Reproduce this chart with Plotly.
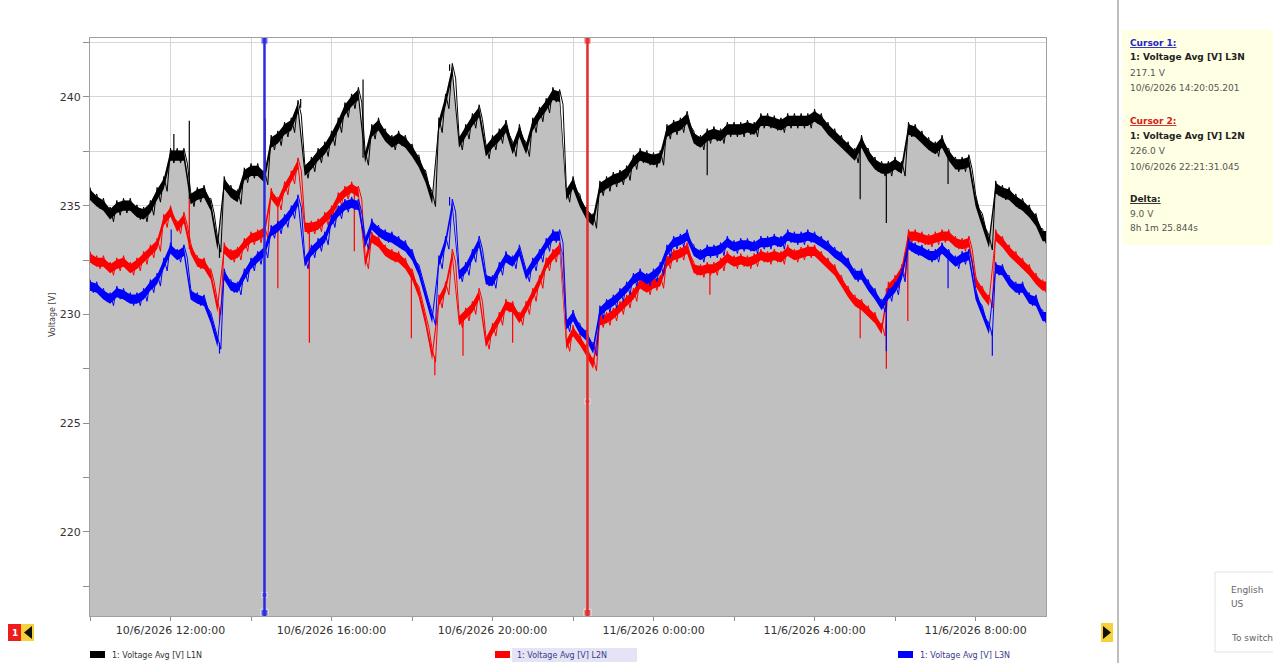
import plotly.graph_objects as go
from datetime import datetime, timedelta

# ---------------------------------------------------------------- data
START = datetime(2026, 6, 10, 10, 0)
STEP_MIN = 10          # one reading per 10-minute bin
AXIS_END = datetime(2026, 6, 11, 9, 45)

L1N = [235.5, 235.2, 235.0, 234.6, 234.9, 235.0, 235.0, 234.7, 234.6, 234.9,
       235.5, 236.0, 237.3, 237.3, 237.3, 235.3, 235.5, 235.6, 235.0, 233.2,
       236.0, 235.6, 235.4, 236.4, 236.6, 236.6, 236.3, 237.9, 238.1, 238.5,
       238.7, 239.5, 236.6, 236.9, 237.3, 237.6, 238.1, 238.7, 239.4, 239.8,
       240.1, 237.2, 238.4, 238.7, 238.2, 237.9, 238.1, 237.9, 237.5, 237.0,
       236.3, 235.3, 238.7, 239.8, 241.2, 237.9, 238.4, 238.9, 239.3, 237.5,
       237.9, 238.2, 238.6, 237.6, 238.4, 237.6, 238.7, 239.2, 239.6, 240.1,
       240.0, 235.5, 236.0, 235.2, 234.6, 234.3, 235.8, 236.0, 236.2, 236.3,
       236.5, 237.0, 237.3, 237.2, 237.1, 237.2, 238.4, 238.6, 238.7, 239.0,
       238.1, 237.9, 238.2, 238.3, 238.2, 238.5, 238.5, 238.5, 238.6, 238.5,
       238.9, 238.9, 238.8, 238.7, 238.9, 238.9, 238.9, 238.9, 239.1, 238.9,
       238.5, 238.2, 237.9, 237.6, 237.3, 237.9, 237.3, 236.9, 236.7, 236.7,
       236.9, 236.7, 238.5, 238.4, 238.1, 237.8, 237.6, 237.9, 237.3, 236.9,
       236.9, 237.0, 235.2, 234.3, 233.3, 235.8, 235.6, 235.5, 235.2, 235.0,
       234.7, 234.3, 233.6]

L2N = [232.6, 232.4, 232.4, 232.1, 232.3, 232.4, 232.1, 232.3, 232.6, 232.9,
       233.2, 234.3, 234.7, 234.0, 234.4, 233.0, 232.4, 232.3, 231.8, 230.3,
       233.0, 232.7, 232.8, 233.2, 233.5, 233.6, 233.8, 235.5, 235.1, 235.8,
       236.3, 236.9, 234.0, 234.0, 234.1, 234.4, 234.7, 235.3, 235.6, 235.8,
       235.6, 232.4, 233.5, 233.3, 232.9, 232.7, 232.6, 232.3, 231.8, 231.0,
       229.7, 228.1, 230.6, 231.2, 232.7, 229.7, 230.0, 230.3, 230.9, 228.7,
       229.3, 229.8, 230.4, 230.3, 229.8, 230.3, 230.9, 231.5, 232.3, 232.7,
       233.0, 228.6, 229.2, 228.8, 228.3, 227.7, 229.7, 229.8, 230.0, 230.3,
       230.6, 230.9, 231.4, 231.2, 231.4, 231.5, 232.4, 232.7, 232.8, 233.0,
       232.1, 232.0, 232.1, 232.1, 232.3, 232.6, 232.4, 232.5, 232.4, 232.5,
       232.7, 232.6, 232.7, 232.6, 232.9, 232.7, 232.8, 232.9, 232.9, 232.6,
       232.3, 232.0, 231.5, 231.0, 230.6, 230.4, 230.1, 229.8, 229.3, 231.2,
       231.5, 232.0, 233.6, 233.6, 233.5, 233.4, 233.5, 233.6, 233.6, 233.3,
       233.2, 233.3, 231.5, 231.0, 230.6, 233.6, 233.3, 232.9, 232.6, 232.3,
       232.0, 231.6, 231.3]

L3N = [231.3, 231.2, 230.9, 230.7, 231.0, 230.9, 230.7, 230.7, 230.9, 231.3,
       231.6, 232.3, 233.0, 232.7, 232.9, 230.9, 230.7, 230.6, 229.8, 228.7,
       231.8, 231.3, 231.2, 231.8, 232.3, 232.6, 232.9, 233.8, 234.0, 234.3,
       234.7, 235.2, 232.4, 232.9, 233.2, 233.5, 234.3, 234.7, 235.0, 235.1,
       235.0, 233.3, 234.1, 233.8, 233.6, 233.5, 233.3, 233.1, 232.7, 232.0,
       230.9, 229.8, 232.4, 233.3, 235.0, 231.8, 232.1, 232.7, 233.3, 231.6,
       231.5, 232.1, 232.6, 232.4, 232.9, 231.8, 232.3, 232.7, 233.2, 233.6,
       233.6, 229.5, 229.9, 229.3, 229.0, 228.4, 230.1, 230.4, 230.6, 230.9,
       231.2, 231.6, 231.8, 231.6, 231.8, 232.1, 232.9, 233.3, 233.4, 233.6,
       232.9, 232.7, 232.9, 232.9, 233.0, 233.3, 233.1, 233.2, 233.2, 233.1,
       233.3, 233.3, 233.4, 233.3, 233.6, 233.5, 233.5, 233.6, 233.5, 233.3,
       233.1, 232.8, 232.6, 232.3, 231.8, 231.8, 231.3, 230.9, 230.4, 230.9,
       231.2, 231.8, 233.2, 233.0, 232.9, 232.7, 232.7, 233.0, 232.7, 232.4,
       232.6, 232.7, 230.9, 230.1, 229.3, 232.1, 232.0, 231.5, 231.2, 231.2,
       230.7, 230.6, 229.9]

# ripple inside one bin: half-width of the min/max band, volts
SPREAD = {"L1N": 0.34, "L2N": 0.3, "L3N": 0.3}

# short excursions (time, volts)
L1N_SPIKES = [("2026-06-10 12:05", 238.3), ("2026-06-10 12:28", 238.9),
              ("2026-06-10 13:13", 232.6), ("2026-06-10 14:21", 239.0),
              ("2026-06-10 15:14", 239.9), ("2026-06-10 16:47", 240.8),
              ("2026-06-10 18:56", 241.5), ("2026-06-11 01:20", 236.4),
              ("2026-06-11 05:08", 235.3), ("2026-06-11 05:47", 234.2),
              ("2026-06-11 07:19", 236.0)]
L2N_SPIKES = [("2026-06-10 12:28", 235.3), ("2026-06-10 13:13", 229.6),
              ("2026-06-10 14:40", 231.2), ("2026-06-10 15:27", 228.7),
              ("2026-06-10 16:34", 232.9), ("2026-06-10 17:59", 228.9),
              ("2026-06-10 18:34", 227.2), ("2026-06-10 19:16", 228.1),
              ("2026-06-10 20:30", 228.7), ("2026-06-10 22:21:31", 226.0),
              ("2026-06-11 01:24", 230.9), ("2026-06-11 05:08", 228.9),
              ("2026-06-11 05:47", 227.5), ("2026-06-11 06:19", 229.7)]
L3N_SPIKES = [("2026-06-10 12:01", 233.9), ("2026-06-10 13:13", 228.2),
              ("2026-06-10 14:20:05", 217.1), ("2026-06-10 18:56", 235.4),
              ("2026-06-11 05:47", 228.3), ("2026-06-11 07:19", 231.2),
              ("2026-06-11 08:25", 228.1)]

CURSOR1 = {"channel": "L3N", "time": "2026-06-10 14:20:05.201", "value": 217.1}
CURSOR2 = {"channel": "L2N", "time": "2026-06-10 22:21:31.045", "value": 226.0}
DELTA_TEXT = ["9.0 V", "8h 1m 25.844s"]

X_TICKS = ["2026-06-10 10:00", "2026-06-10 12:00", "2026-06-10 14:00",
           "2026-06-10 16:00", "2026-06-10 18:00", "2026-06-10 20:00",
           "2026-06-10 22:00", "2026-06-11 00:00", "2026-06-11 02:00",
           "2026-06-11 04:00", "2026-06-11 06:00", "2026-06-11 08:00"]
X_TICK_LABELS = ["", "10/6/2026 12:00:00", "", "10/6/2026 16:00:00", "",
                 "10/6/2026 20:00:00", "", "11/6/2026 0:00:00", "",
                 "11/6/2026 4:00:00", "", "11/6/2026 8:00:00"]
Y_TICKS = [217.5, 220, 222.5, 225, 227.5, 230, 232.5, 235, 237.5, 240, 242.5]
Y_TICK_LABELS = ["", "220", "", "225", "", "230", "", "235", "", "240", ""]
Y_RANGE = [216.13, 242.71]

SERIES = [("L1N", L1N, L1N_SPIKES, "#000000"),
          ("L2N", L2N, L2N_SPIKES, "#ff0000"),
          ("L3N", L3N, L3N_SPIKES, "#0000ff")]
NAMES = {"L1N": "1: Voltage Avg [V] L1N", "L2N": "1: Voltage Avg [V] L2N",
         "L3N": "1: Voltage Avg [V] L3N"}

# ---------------------------------------------------------------- geometry
W, H = 1273, 663
PL, PR, PT, PB = 90, 1046, 38, 616
FONT = "DejaVu Sans, Liberation Sans, Arial, sans-serif"


def px(x):
    return (x - PL) / (PR - PL)


def py(y):
    return (PB - y) / (PB - PT)


def ts(s):
    fmt = "%Y-%m-%d %H:%M:%S.%f" if "." in s else (
        "%Y-%m-%d %H:%M:%S" if s.count(":") == 2 else "%Y-%m-%d %H:%M")
    return datetime.strptime(s, fmt)


times = [START + timedelta(minutes=STEP_MIN * i) for i in range(len(L1N))]
half = timedelta(minutes=STEP_MIN / 2)
# band vertices: each bin start, and the last bin held until the axis end
band_t = times + [AXIS_END]

fig = go.Figure()

for key, vals, spikes, color in SERIES:
    s = SPREAD[key]
    vv = vals + [vals[-1]]
    hi = [v + s * 0.7 for v in vv]
    lo = [v - s * 0.7 for v in vv]
    if key == "L1N":
        # grey area below the L1N trace
        fig.add_trace(go.Scatter(
            x=band_t, y=hi, mode="lines", line=dict(width=0),
            fill="tozeroy", fillcolor="#c0c0c0",
            showlegend=False, hoverinfo="skip"))
    # min/max band of the bin
    fig.add_trace(go.Scatter(
        x=band_t + band_t[::-1], y=hi + lo[::-1], mode="lines",
        line=dict(width=0), fill="toself", fillcolor=color,
        showlegend=False, hoverinfo="skip", name=NAMES[key]))
    # ripple traced between bin extremes
    xs, ys = [], []
    for t, v in zip(times, vals):
        xs += [t, t + half]
        ys += [v + s, v - s]
    fig.add_trace(go.Scatter(
        x=xs, y=ys, mode="lines", line=dict(color=color, width=1),
        showlegend=False, hoverinfo="skip"))
    sx, sy = [], []
    for tstr, v in spikes:
        t = ts(tstr)
        idx = min(range(len(times)), key=lambda i: abs((times[i] - t).total_seconds()))
        sx += [t, t, None]
        sy += [vals[idx], v, None]
    fig.add_trace(go.Scatter(x=sx, y=sy, mode="lines",
                             line=dict(color=color, width=1.2),
                             showlegend=False, hoverinfo="skip"))

# cursors
for cur, color in ((CURSOR1, "#2a2ae6"), (CURSOR2, "#e62a2a")):
    t = ts(cur["time"])
    fig.add_shape(type="line", xref="x", yref="paper", x0=t, x1=t, y0=0, y1=1,
                  line=dict(color=color, width=2.5), layer="above")
    fig.add_trace(go.Scatter(
        x=[t, t, t], y=[Y_RANGE[1] - 0.12, cur["value"], Y_RANGE[0] + 0.15],
        mode="markers", marker=dict(symbol="square", size=[7, 5, 7], color=color),
        cliponaxis=False, showlegend=False, hoverinfo="skip"))

shapes = []
ann = []

# outer frame of the chart control and right separator
shapes.append(dict(type="line", xref="paper", yref="paper", x0=px(1.5), x1=px(1.5),
                   y0=py(0), y1=py(H), line=dict(color="#000", width=3)))
shapes.append(dict(type="line", xref="paper", yref="paper", x0=px(0), x1=px(1118),
                   y0=py(1), y1=py(1), line=dict(color="#000", width=2)))
shapes.append(dict(type="line", xref="paper", yref="paper", x0=px(1118), x1=px(1118),
                   y0=py(0), y1=py(H), line=dict(color="#a8a8a8", width=1.5)))

# cursor readout panel
shapes.append(dict(type="rect", xref="paper", yref="paper", x0=px(1122), x1=px(W),
                   y0=py(245), y1=py(30), fillcolor="#ffffe3", line=dict(width=0),
                   layer="below"))


def text(x, y, s, size=9, color="#555", anchor="left"):
    ann.append(dict(xref="paper", yref="paper", x=px(x), y=py(y), text=s,
                    showarrow=False, xanchor=anchor, yanchor="middle",
                    font=dict(family=FONT, size=size, color=color)))


U = '<span style="text-decoration:underline">{}</span>'
text(1128, 43, "<b>" + U.format("Cursor 1:") + "</b>", color="#2323c8")
text(1128, 57, "<b>" + NAMES[CURSOR1["channel"]] + "</b>", color="#222")
text(1128, 73, f"{CURSOR1['value']:.1f} V")
text(1128, 88, ts(CURSOR1["time"]).strftime("%-d/%-m/%Y %H:%M:%S.") +
     CURSOR1["time"].split(".")[1])
text(1128, 121, "<b>" + U.format("Cursor 2:") + "</b>", color="#d42020")
text(1128, 136, "<b>" + NAMES[CURSOR2["channel"]] + "</b>", color="#222")
text(1128, 151, f"{CURSOR2['value']:.1f} V")
text(1128, 167, ts(CURSOR2["time"]).strftime("%-d/%-m/%Y %H:%M:%S.") +
     CURSOR2["time"].split(".")[1])
text(1128, 199, "<b>" + U.format("Delta:") + "</b>", color="#222")
text(1128, 214, DELTA_TEXT[0])
text(1128, 228, DELTA_TEXT[1])

# legend row
for (key, _, _, color), lx in zip(SERIES, (90, 495, 898)):
    if key == "L2N":
        shapes.append(dict(type="rect", xref="paper", yref="paper",
                           x0=px(lx + 17), x1=px(lx + 142), y0=py(662), y1=py(648),
                           fillcolor="#e4e4f6", line=dict(width=0)))
    shapes.append(dict(type="rect", xref="paper", yref="paper",
                       x0=px(lx), x1=px(lx + 15), y0=py(658), y1=py(651),
                       fillcolor=color, line=dict(width=0)))
    text(lx + 20, 655, NAMES[key], size=8,
         color="#333" if key == "L1N" else "#3a3a8a")

# axis title
ann.append(dict(xref="paper", yref="paper", x=px(52), y=py(315), text="Voltage [V]",
                textangle=-90, showarrow=False, xanchor="center", yanchor="middle",
                font=dict(family=FONT, size=8, color="#444")))

# navigation buttons
shapes.append(dict(type="rect", xref="paper", yref="paper", x0=px(8), x1=px(21),
                   y0=py(641), y1=py(624), fillcolor="#ee1c1c", line=dict(width=0)))
text(14.5, 632.5, "<b>1</b>", size=9, color="#fff", anchor="center")
shapes.append(dict(type="rect", xref="paper", yref="paper", x0=px(21), x1=px(34),
                   y0=py(641), y1=py(624), fillcolor="#f5d23a", line=dict(width=0)))
shapes.append(dict(type="path", xref="paper", yref="paper",
                   path=f"M {px(24)} {py(632.5)} L {px(32)} {py(626)} L {px(32)} {py(639)} Z",
                   fillcolor="#111", line=dict(width=0)))
shapes.append(dict(type="rect", xref="paper", yref="paper", x0=px(1101), x1=px(1113),
                   y0=py(642), y1=py(623), fillcolor="#f5d23a", line=dict(width=0)))
shapes.append(dict(type="path", xref="paper", yref="paper",
                   path=f"M {px(1111)} {py(632.5)} L {px(1103)} {py(626)} L {px(1103)} {py(639)} Z",
                   fillcolor="#111", line=dict(width=0)))

# language flyout
shapes.append(dict(type="rect", xref="paper", yref="paper", x0=px(1215), x1=px(W + 5),
                   y0=py(652), y1=py(572), fillcolor="#ffffff",
                   line=dict(color="#e2e2e2", width=1)))
text(1229, 590, "English", size=9, color="#666")
text(1229, 604, "US", size=9, color="#666")
text(1229, 638, "To switch", size=9, color="#666")

fig.update_layout(
    width=W, height=H,
    margin=dict(l=PL, r=W - PR, t=PT, b=H - PB, pad=0),
    paper_bgcolor="#ffffff", plot_bgcolor="#ffffff",
    showlegend=False, shapes=shapes, annotations=ann,
    font=dict(family=FONT, size=11, color="#333"),
    xaxis=dict(type="date", range=[START, AXIS_END],
               tickmode="array", tickvals=X_TICKS, ticktext=X_TICK_LABELS,
               ticks="outside", ticklen=4, tickcolor="#909090",
               showgrid=True, gridcolor="#d6d6d6", gridwidth=1,
               showline=True, linecolor="#a0a0a0", mirror=True, zeroline=False,
               tickfont=dict(family=FONT, size=11, color="#333")),
    yaxis=dict(range=Y_RANGE, tickmode="array", tickvals=Y_TICKS,
               ticktext=Y_TICK_LABELS, ticks="outside", ticklen=6,
               tickcolor="#909090", showgrid=True, gridcolor="#d6d6d6",
               showline=True, linecolor="#a0a0a0", mirror=True, zeroline=False,
               tickfont=dict(family=FONT, size=11, color="#333")),
)

fig.write_html("out.html")
